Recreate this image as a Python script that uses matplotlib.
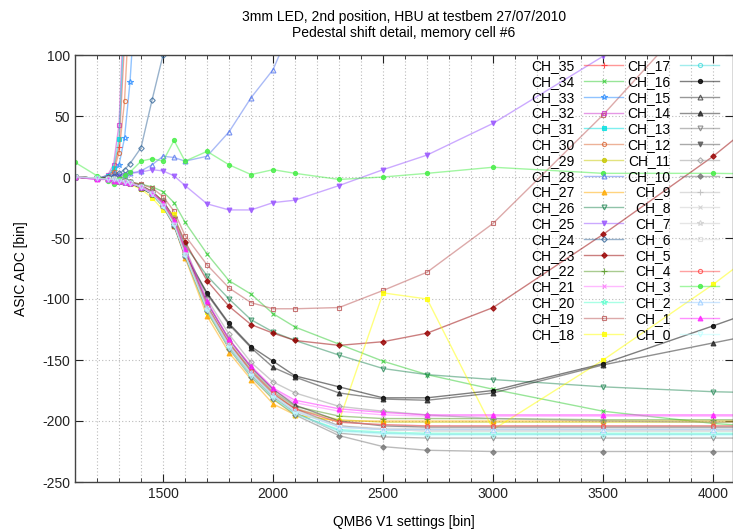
import numpy as np
import matplotlib.pyplot as plt
from matplotlib.colors import to_rgba
from matplotlib.ticker import MultipleLocator

plt.rcParams['font.family'] = ['Liberation Sans', 'DejaVu Sans']
plt.rcParams['axes.unicode_minus'] = False

# QMB6 V1 settings
X = [1100, 1200, 1250, 1275, 1300, 1325, 1350, 1400, 1450, 1500, 1550, 1600,
     1700, 1800, 1900, 2000, 2100, 2300, 2500, 2700, 3000, 3500, 4000, 4500]

# pedestal shift per channel (shorter lists = leave the plot at the top)
ch35 = [0, -1, 1, 6, 25, 110]
ch34 = [0, -1, -1, -1, -2, -3, -4, -6, -8, -12, -21, -37, -63, -85, -96, -112, -123, -137, -151, -162, -174, -192, -202, -208]
ch33 = [0, -1, 0, 3, 10, 32, 78, 220]
ch32 = [0, -2, 2, 10, 43, 150]
ch31 = [0, -1, 1, 7, 31, 130]
ch30 = [0, -1, 0, 4, 20, 62, 150]
ch29 = [0, -1, -2, -2, -2, -3, -4, -7, -12, -20, -35, -60, -106, -137, -160, -178, -190, -199, -201, -201, -201, -201, -201, -201]
ch28 = [0, -1, 0, 0, 1, 2, 3, 5, 10, 17, 16, 13, 17, 37, 65, 88, 130]
ch27 = [0, -1, -2, -2, -3, -3, -5, -8, -14, -24, -40, -66, -114, -144, -166, -186, -195, -200, -200, -200, -200, -200, -200, -200]
ch26 = [0, -1, -1, -2, -2, -3, -4, -7, -12, -20, -34, -56, -81, -100, -117, -127, -134, -146, -157, -162, -166, -172, -176, -178]
ch25 = [0, -1, -1, 0, 1, 2, 3, 4, 6, 5, 1, -7, -22, -27, -27, -21, -19, -7, 6, 18, 44, 99, 160]
ch24 = [0, -1, 0, 1, 3, 6, 11, 24, 63, 100, 160]
ch23 = [0, -1, -1, -2, -2, -3, -4, -7, -12, -20, -33, -53, -85, -106, -121, -128, -134, -138, -135, -128, -107, -47, 17, 90]
ch22 = [0, -1, -2, -2, -3, -3, -5, -8, -13, -22, -37, -62, -106, -136, -158, -176, -188, -196, -198, -198, -198, -199, -199, -199]
ch21 = [0, -2, -2, -3, -3, -4, -5, -8, -13, -22, -36, -60, -103, -134, -156, -174, -185, -192, -195, -196, -196, -196, -196, -196]
ch20 = [0, -1, -2, -2, -3, -4, -5, -8, -14, -24, -39, -64, -110, -140, -163, -181, -194, -207, -209, -210, -210, -210, -210, -210]
ch19 = [0, -1, -1, -2, -2, -3, -4, -6, -9, -16, -28, -48, -72, -91, -103, -108, -108, -107, -93, -78, -38, 51, 150]
ch18 = [0, -1, -2, -2, -3, -4, -6, -10, -17, -27, -30, -64, -111, -140, -163, -182, -195, -200, -95, -100, -207, -150, -88, -20]
ch17 = [0, -1, -2, -2, -3, -4, -5, -8, -14, -24, -39, -64, -109, -140, -163, -181, -194, -208, -210, -211, -211, -211, -211, -211]
ch16 = [0, -1, -1, -2, -3, -4, -5, -9, -14, -23, -39, -63, -95, -120, -139, -151, -163, -172, -181, -181, -175, -153, -122, -90]
ch15 = [0, -1, -2, -2, -3, -4, -5, -8, -13, -22, -37, -61, -103, -133, -156, -174, -187, -200, -204, -205, -205, -205, -205, -205]
ch14 = [0, -1, -1, -2, -3, -4, -5, -9, -14, -23, -39, -64, -96, -121, -140, -156, -164, -177, -182, -183, -177, -154, -136, -118]
ch13 = [0, -1, -2, -2, -3, -4, -5, -8, -14, -24, -39, -64, -108, -139, -162, -180, -193, -210, -213, -214, -214, -214, -214, -214]
ch12 = [0, -1, -2, -2, -3, -4, -5, -8, -13, -23, -38, -63, -106, -137, -160, -178, -190, -204, -207, -208, -208, -208, -208, -208]
ch11 = [0, -1, -1, -2, -2, -3, -4, -7, -12, -20, -34, -58, -100, -129, -152, -168, -177, -188, -192, -195, -198, -200, -201, -201]
ch10 = [0, -1, -2, -2, -3, -4, -5, -8, -14, -24, -40, -65, -110, -141, -164, -182, -195, -212, -221, -224, -225, -225, -225, -225]
ch9 = [0, -1, -2, -2, -3, -4, -5, -8, -13, -22, -37, -62, -105, -135, -158, -176, -189, -201, -203, -204, -204, -204, -204, -204]
ch8 = [0, -1, -2, -2, -3, -4, -5, -8, -13, -23, -38, -63, -107, -137, -160, -178, -191, -204, -206, -206, -206, -206, -206, -206]
ch7 = [0, -1, -2, -2, -3, -4, -5, -8, -14, -23, -38, -63, -108, -138, -161, -179, -192, -205, -207, -207, -207, -207, -207, -207]
ch6 = [0, -1, -2, -2, -3, -4, -5, -8, -13, -23, -38, -63, -107, -138, -161, -179, -192, -205, -207, -208, -208, -208, -208, -208]
ch5 = [0, -1, -2, -2, -3, -4, -5, -8, -13, -23, -38, -63, -107, -138, -161, -179, -192, -205, -207, -208, -208, -208, -208, -208]
ch4 = [0, -1, -2, -2, -3, -4, -5, -8, -13, -22, -37, -62, -106, -136, -159, -177, -190, -201, -203, -204, -204, -204, -204, -204]
ch3 = [12, 1, -3, -6, -2, 2, 4, 13, 15, 13, 30, 13, 21, 10, 2, 6, 3, -2, 0, 3, 8, 3, 3, 2]
ch2 = [0, -1, -2, -2, -3, -4, -5, -8, -13, -23, -38, -63, -107, -138, -161, -179, -192, -205, -207, -207, -207, -207, -207, -207]
ch1 = [0, -2, -2, -3, -3, -4, -5, -8, -13, -21, -35, -59, -102, -133, -155, -173, -183, -190, -193, -195, -195, -195, -195, -195]
ch0 = [0, -1, -2, -2, -3, -4, -5, -8, -14, -24, -39, -64, -109, -140, -163, -181, -194, -209, -211, -212, -212, -212, -212, -212]

series = [ch35, ch34, ch33, ch32, ch31, ch30, ch29, ch28, ch27, ch26, ch25, ch24,
          ch23, ch22, ch21, ch20, ch19, ch18, ch17, ch16, ch15, ch14, ch13, ch12,
          ch11, ch10, ch9, ch8, ch7, ch6, ch5, ch4, ch3, ch2, ch1, ch0]
labels = ['CH_%d' % i for i in range(35, -1, -1)]

colors = ['#ff3030', '#33cc33', '#2288ff', '#cc33cc', '#00e0e0', '#dd6633',
          '#c8c800', '#5577ee', '#ffaa00', '#228855', '#9955ff', '#336699',
          '#990000', '#559922', '#ff77ff', '#55ffcc', '#bb5555', '#ffff00',
          '#44dddd', '#000000', '#333333', '#222222', '#777777', '#555555',
          '#999999', '#777777', '#bbbbbb', '#cccccc', '#cccccc', '#dddddd',
          '#ffffff', '#ff4444', '#44ee44', '#99ccff', '#ff22ff', '#bbffff']

# gnuplot point types: +, x, *, open/filled square, circle, triangle, inv. triangle, diamond
ptypes = [('+', False), ('x', False), ('*', False), ('s', False), ('s', True),
          ('o', False), ('o', True), ('^', False), ('^', True), ('v', False),
          ('v', True), ('D', False), ('D', True)]
msize = {'+': 4, 'x': 3.5, '*': 4, 's': 3.5, 'o': 3, '^': 3.5, 'v': 3.5, 'D': 2.8}

fig = plt.figure(figsize=(7.33, 5.31), dpi=100)
ax = fig.add_axes([75 / 733, 49 / 531, 658 / 733, 427 / 531])

for i, (y, lab, c) in enumerate(zip(series, labels, colors)):
    m, filled = ptypes[i % len(ptypes)]
    mc = to_rgba(c, 0.8)
    ax.plot(X[:len(y)], y, color=to_rgba(c, 0.5), lw=1.0, marker=m,
            markersize=msize[m], markeredgecolor=mc,
            markerfacecolor=mc if filled else 'none',
            markeredgewidth=0.8, label=lab)

ax.set_xlim(1100, 4090)
ax.set_ylim(-250, 100)
ax.xaxis.set_major_locator(MultipleLocator(500))
ax.xaxis.set_minor_locator(MultipleLocator(100))
ax.yaxis.set_major_locator(MultipleLocator(50))
ax.tick_params(which='both', direction='in', top=True, right=True,
               labelsize=10, colors='#222222')
ax.tick_params(which='major', length=6)
ax.tick_params(which='minor', length=3)
ax.grid(which='both', axis='x', color='#bbbbbb', ls=(0, (1, 2)), lw=0.8)
ax.grid(which='major', axis='y', color='#bbbbbb', ls=(0, (1, 2)), lw=0.8)
for sp in ax.spines.values():
    sp.set_color('#444444')
    sp.set_linewidth(1.0)

ax.set_xlabel('QMB6 V1 settings [bin]', fontsize=10, labelpad=10)
ax.set_ylabel('ASIC ADC [bin]', fontsize=10, labelpad=10)
ax.set_title('3mm LED, 2nd position, HBU at testbem 27/07/2010\n'
             'Pedestal shift detail, memory cell #6', fontsize=10, pad=13)

ax.legend(ncol=2, markerfirst=False, frameon=False, loc='upper right',
          bbox_to_anchor=(1 - 14 / 658, 1 - 4 / 427), borderaxespad=0,
          borderpad=0, fontsize=10, handlelength=2.8, handletextpad=0.7,
          columnspacing=0.3, labelspacing=0.13)

fig.savefig('out.png', dpi=100)
